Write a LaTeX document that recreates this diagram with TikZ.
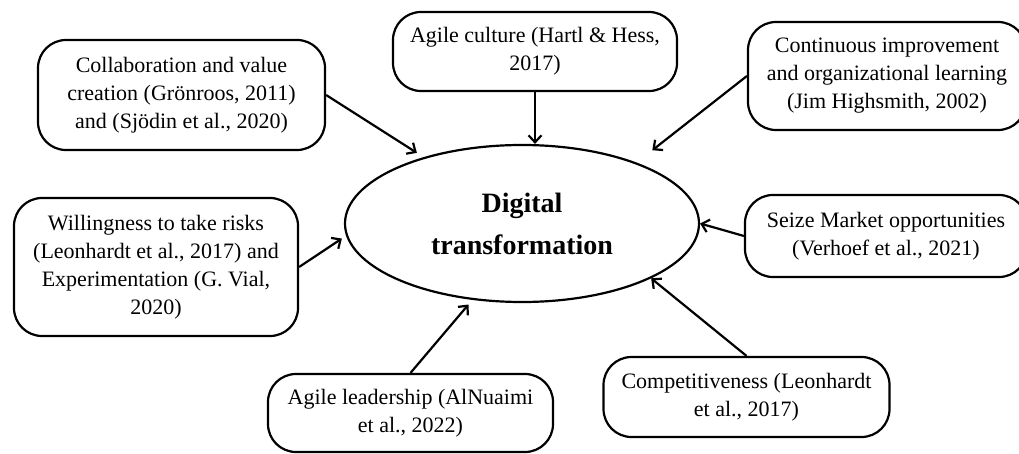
\documentclass[tikz,border=0pt]{standalone}
\usepackage{fontspec}
\setmainfont{Liberation Serif}
\usetikzlibrary{shapes.geometric, arrows.meta}

\begin{document}
\begin{tikzpicture}[x=1pt, y=-1pt,
	factor/.style={draw, line width=2.2pt, rounded corners=28pt, align=center, inner sep=0pt, font=\fontsize{22}{28}\selectfont},
	link/.style={line width=2.2pt, -{Straight Barb[length=7pt, width=13pt]}}]

	\useasboundingbox (0,0) rectangle (1019,454);

	\node[ellipse, draw, line width=2.2pt, minimum width=354pt, minimum height=157pt, align=center, font=\fontsize{28}{42}\selectfont\bfseries] (dt) at (522,223.5) {Digital\\transformation};
	
	\node[factor, minimum width=287pt, minimum height=110pt] (collab) at (181.5,95) {Collaboration and value\\creation (Grönroos, 2011)\\and (Sjödin et al., 2020)};
	\node[factor, minimum width=284pt, minimum height=79pt] (culture) at (535,51.5) {Agile culture (Hartl \& Hess,\\2017)};
	\node[factor, minimum width=278pt, minimum height=108pt] (learn) at (887,76) {Continuous improvement\\and organizational learning\\(Jim Highsmith, 2002)};
	\node[factor, minimum width=282pt, minimum height=82pt] (market) at (886,236) {Seize Market opportunities\\(Verhoef et al., 2021)};
	\node[factor, minimum width=284pt, minimum height=138pt] (risk) at (156,267) {Willingness to take risks\\(Leonhardt et al., 2017) and\\Experimentation (G. Vial,\\2020)};
	\node[factor, minimum width=285pt, minimum height=78pt] (lead) at (410.5,413) {Agile leadership (AlNuaimi\\et al., 2022)};
	\node[factor, minimum width=286pt, minimum height=80pt] (compete) at (746.5,397) {Competitiveness (Leonhardt\\et al., 2017)};
	
	%%% Arrows into the ellipse %%%
	
	\draw[link, shorten >=8pt] (collab.east) -- (dt.146);
	\draw[link] (culture.south) -- (culture.south |- dt.north);
	\draw[link, shorten >=20pt] (learn.west) -- (dt.28.5);
	\draw[link] (market.west) -- (dt.east);
	\draw[link, shorten >=5pt] (risk.east) -- (dt.184.6);
	\draw[link, shorten >=6pt] (lead.north) -- (dt.237.5);
	\draw[link] (compete.north) -- (dt.337.3);

\end{tikzpicture}
\end{document}
